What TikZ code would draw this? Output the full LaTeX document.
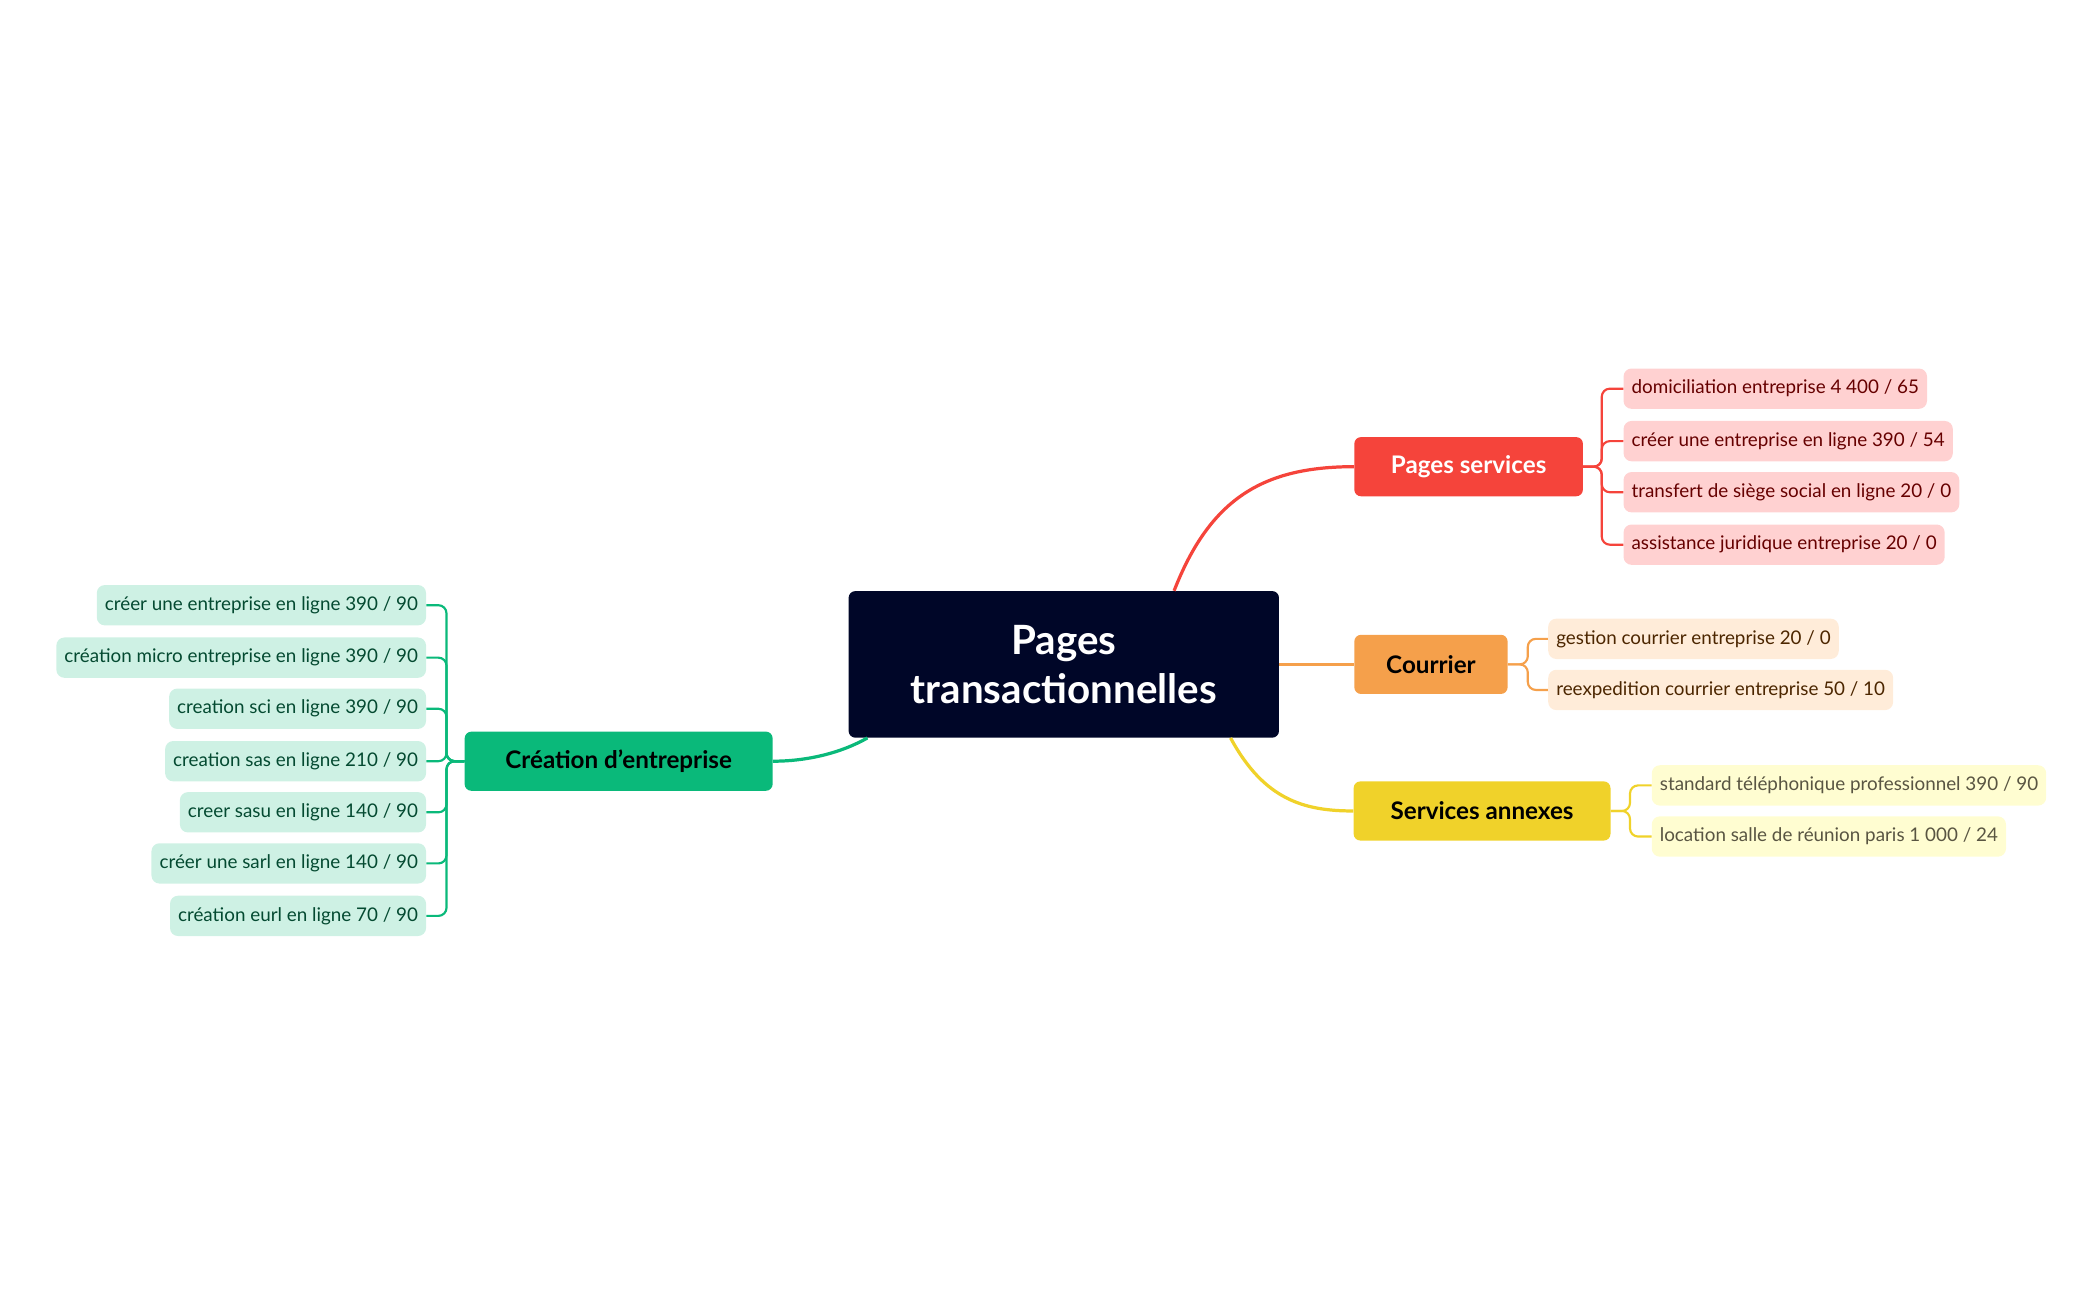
\documentclass[tikz,border=0pt]{standalone}
\usepackage{fontspec}
\setmainfont{Lato}
\usetikzlibrary{positioning,calc}
\definecolor{navy}{HTML}{000628}
\definecolor{redm}{HTML}{F5443B}
\definecolor{orangem}{HTML}{F5A04B}
\definecolor{yellowm}{HTML}{F0D22A}
\definecolor{greenm}{HTML}{0AB97A}

\begin{document}
\begin{tikzpicture}[x=1pt, y=-1pt,
    rootbox/.style={rectangle, rounded corners=5pt, fill=navy, text=white, font=\bfseries\fontsize{30}{36}\selectfont, align=center, minimum width=320pt, minimum height=109pt},
    branch/.style={rectangle, rounded corners=5pt, font=\bfseries\fontsize{18}{22}\selectfont, minimum height=44pt, inner xsep=12pt},
    leaf/.style={rectangle, rounded corners=6pt, font=\fontsize{14}{17}\selectfont, minimum height=30pt, inner xsep=6pt},
    link/.style={line width=2.4pt},
    twig/.style={line width=1.6pt, rounded corners=6pt}
]
\useasboundingbox (0,0) rectangle (1560,967);

\node[rootbox] (root) at (791,494) {Pages\\transactionnelles};

\node[branch, fill=redm, text=white, minimum width=170pt] (serv) at (1092,347) {Pages services};
\node[branch, fill=orangem, minimum width=114pt] (cour) at (1064,494) {Courrier};
\node[branch, fill=yellowm, minimum width=191pt] (anx) at (1102,603) {Services annexes};
\node[branch, fill=greenm, minimum width=229pt] (crea) at (460,566) {Création d’entreprise};

% main links
\draw[link, redm] ($(root.north)+(82,0)$) .. controls (900,370) and (940,347) .. (serv.west);
\draw[link, orangem] (root.east) -- (cour.west);
\draw[link, yellowm] ($(root.south)+(124,0)$) .. controls (940,595) and (970,603) .. (anx.west);
\draw[link, greenm] ($(root.south)+(-146,0)$) .. controls (625,560) and (600,566) .. (crea.east);

% pages services
\foreach \t/\y [count=\i] in {{domiciliation entreprise 4 400 / 65}/289, {créer une entreprise en ligne 390 / 54}/328, {transfert de siège social en ligne 20 / 0}/366, {assistance juridique entreprise 20 / 0}/405}{
  \node[leaf, fill=red!18, text=red!40!black, anchor=west] (s\i) at (1207,\y) {\t};
  \draw[twig, redm] (serv.east) -- (1191,347) |- (s\i.west);
}

% courrier
\foreach \t/\y [count=\i] in {{gestion courrier entreprise 20 / 0}/475, {reexpedition courrier entreprise 50 / 10}/513}{
  \node[leaf, fill=orange!15, text=orange!30!black, anchor=west] (c\i) at (1151,\y) {\t};
  \draw[twig, orangem] (cour.east) -- (1136,494) |- (c\i.west);
}

% services annexes
\foreach \t/\y [count=\i] in {{standard téléphonique professionnel 390 / 90}/584, {location salle de réunion paris 1 000 / 24}/622}{
  \node[leaf, fill=yellow!18, text=yellow!25!black, anchor=west] (a\i) at (1228,\y) {\t};
  \draw[twig, yellowm] (anx.east) -- (1212,603) |- (a\i.west);
}

% creation d'entreprise
\foreach \t/\y [count=\i] in {{créer une entreprise en ligne 390 / 90}/450, {création micro entreprise en ligne 390 / 90}/489, {creation sci en ligne 390 / 90}/527, {creation sas en ligne 210 / 90}/566, {creer sasu en ligne 140 / 90}/604, {créer une sarl en ligne 140 / 90}/642, {création eurl en ligne 70 / 90}/681}{
  \node[leaf, fill=greenm!20, text=greenm!40!black, anchor=east] (g\i) at (317,\y) {\t};
  \draw[twig, greenm] (crea.west) -- (332,566) |- (g\i.east);
}
\end{tikzpicture}
\end{document}
